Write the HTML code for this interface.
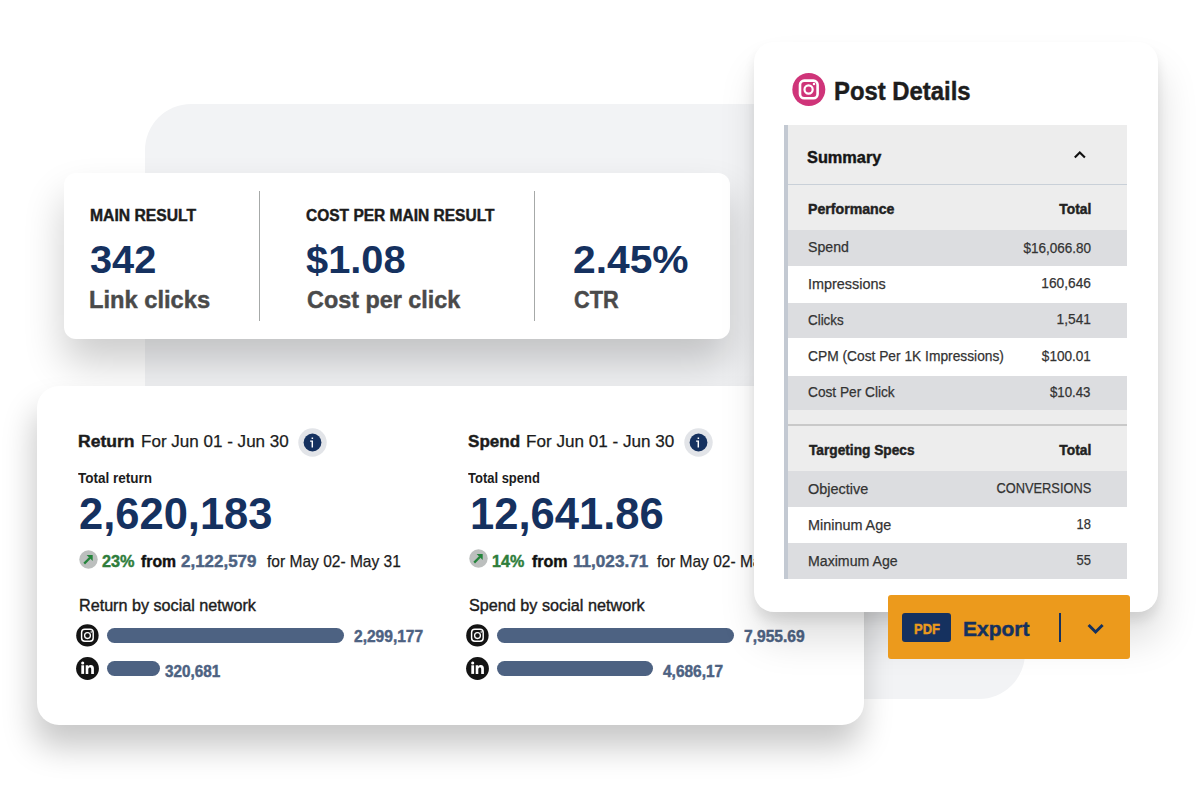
<!DOCTYPE html>
<html><head><meta charset="utf-8">
<style>
*{margin:0;padding:0;box-sizing:border-box}
html,body{width:1200px;height:800px;overflow:hidden;background:#fff}
body{position:relative;font-family:"Liberation Sans",Arial,sans-serif;color:#1c1c1c}
.abs{position:absolute}
.t{position:absolute;white-space:nowrap;transform-origin:0 50%}
.tr{position:absolute;white-space:nowrap;transform-origin:100% 50%;text-align:right}
.bg{left:145px;top:104px;width:880px;height:595px;border-radius:46px;background:#f2f3f5}
.card{background:#fff;position:absolute}
#c1{left:64px;top:173px;width:666px;height:166px;border-radius:12px;box-shadow:0 24px 40px rgba(0,0,0,.2)}
#c2{left:37px;top:386px;width:827px;height:339px;border-radius:22px;box-shadow:-3px 22px 32px rgba(0,0,0,.22)}
#c3{left:754px;top:42px;width:404px;height:570px;border-radius:20px;box-shadow:0 8px 12px rgba(0,0,0,.09),3px 28px 38px rgba(0,0,0,.13)}
.vdiv{position:absolute;width:1px;background:#a6a9a8}
.bar{position:absolute;height:15px;border-radius:8px;background:#4d6282}
.tbl{position:absolute;left:784px;width:343px}
.row{position:absolute;left:788px;width:339px}
</style></head>
<body>
<div class="abs bg"></div>

<div class="card" id="c1"></div>
<div class="vdiv" style="left:259px;top:191px;height:130px"></div>
<div class="vdiv" style="left:534px;top:191px;height:130px"></div>

<div class="card" id="c2"></div>
<svg class="abs" style="left:298.3px;top:427.6px" width="29" height="29" viewBox="0 0 29 29"><circle cx="14.5" cy="14.5" r="14.2" fill="#e2e4e8"/><circle cx="14.5" cy="14.5" r="8.9" fill="#15315f"/><rect x="13.6" y="9.5" width="1.5" height="1.5" fill="#fff"/><path d="M12.1 13.1H14.3V19.4" stroke="#fff" stroke-width="1.45" fill="none"/></svg>
<svg class="abs" style="left:683.5px;top:427.6px" width="29" height="29" viewBox="0 0 29 29"><circle cx="14.5" cy="14.5" r="14.2" fill="#e2e4e8"/><circle cx="14.5" cy="14.5" r="8.9" fill="#15315f"/><rect x="13.6" y="9.5" width="1.5" height="1.5" fill="#fff"/><path d="M12.1 13.1H14.3V19.4" stroke="#fff" stroke-width="1.45" fill="none"/></svg>
<svg class="abs" style="left:79.3px;top:549.8px" width="19" height="19" viewBox="0 0 19 19"><circle cx="9.5" cy="9.5" r="9.2" fill="#bcbfbe"/><path d="M5.2 13.6L11 7.8" stroke="#24843b" stroke-width="2.3" fill="none"/><path d="M7.6 5h6.1v6.1z" fill="#24843b"/></svg>
<svg class="abs" style="left:469.3px;top:549.3px" width="19" height="19" viewBox="0 0 19 19"><circle cx="9.5" cy="9.5" r="9.2" fill="#bcbfbe"/><path d="M5.2 13.6L11 7.8" stroke="#24843b" stroke-width="2.3" fill="none"/><path d="M7.6 5h6.1v6.1z" fill="#24843b"/></svg>
<svg class="abs" style="left:76px;top:623.5px" width="23" height="23" viewBox="0 0 23 23"><circle cx="11.4" cy="11.4" r="11.2" fill="#141414"/><rect x="5.6" y="5.3" width="11.6" height="11.9" rx="3.2" fill="none" stroke="#fff" stroke-width="1.45"/><circle cx="11.5" cy="11.6" r="2.9" fill="none" stroke="#fff" stroke-width="1.3"/><circle cx="15.2" cy="8" r="0.8" fill="#fff"/></svg>
<svg class="abs" style="left:466px;top:623.5px" width="23" height="23" viewBox="0 0 23 23"><circle cx="11.4" cy="11.4" r="11.2" fill="#141414"/><rect x="5.6" y="5.3" width="11.6" height="11.9" rx="3.2" fill="none" stroke="#fff" stroke-width="1.45"/><circle cx="11.5" cy="11.6" r="2.9" fill="none" stroke="#fff" stroke-width="1.3"/><circle cx="15.2" cy="8" r="0.8" fill="#fff"/></svg>
<svg class="abs" style="left:76px;top:657px" width="23" height="23" viewBox="0 0 23 23"><circle cx="11.5" cy="11.5" r="11.4" fill="#141414"/><circle cx="6.7" cy="6" r="1.55" fill="#fff"/><rect x="5.3" y="8.3" width="2.8" height="8.6" fill="#fff"/><path d="M9.7 8.3h2.6v1.2c.6-.9 1.5-1.4 2.6-1.4 2 0 3 1.2 3 3.4v5.4h-2.7v-4.8c0-1-.4-1.6-1.2-1.6-.9 0-1.7.6-1.7 1.7v4.7h-2.6z" fill="#fff"/></svg>
<svg class="abs" style="left:466px;top:657px" width="23" height="23" viewBox="0 0 23 23"><circle cx="11.5" cy="11.5" r="11.4" fill="#141414"/><circle cx="6.7" cy="6" r="1.55" fill="#fff"/><rect x="5.3" y="8.3" width="2.8" height="8.6" fill="#fff"/><path d="M9.7 8.3h2.6v1.2c.6-.9 1.5-1.4 2.6-1.4 2 0 3 1.2 3 3.4v5.4h-2.7v-4.8c0-1-.4-1.6-1.2-1.6-.9 0-1.7.6-1.7 1.7v4.7h-2.6z" fill="#fff"/></svg>
<div class="bar" style="left:107px;top:628px;width:237px"></div>
<div class="bar" style="left:107px;top:661px;width:53px"></div>
<div class="bar" style="left:497px;top:628px;width:237px"></div>
<div class="bar" style="left:497px;top:661px;width:156px"></div>

<div id="mr1" class="t" style="left:89.70px;top:207.81px;font-size:16.8px;line-height:16.8px;font-weight:700;color:#1c1c1c;transform:scaleX(0.9351);-webkit-text-stroke-width:0.45px">MAIN RESULT</div>
<div id="n1" class="t" style="left:89.55px;top:241.44px;font-size:38.8px;line-height:38.8px;font-weight:700;color:#15315f;transform:scaleX(1.0249)">342</div>
<div id="s1" class="t" style="left:88.82px;top:287.98px;font-size:24.4px;line-height:24.4px;font-weight:700;color:#4a4a4a;transform:scaleX(0.9708);-webkit-text-stroke-width:0.45px">Link clicks</div>
<div id="mr2" class="t" style="left:306.12px;top:207.81px;font-size:16.8px;line-height:16.8px;font-weight:700;color:#1c1c1c;transform:scaleX(0.9244);-webkit-text-stroke-width:0.45px">COST PER MAIN RESULT</div>
<div id="n2" class="t" style="left:306.07px;top:241.44px;font-size:38.8px;line-height:38.8px;font-weight:700;color:#15315f;transform:scaleX(1.0259)">$1.08</div>
<div id="s2" class="t" style="left:306.78px;top:287.98px;font-size:24.4px;line-height:24.4px;font-weight:700;color:#4a4a4a;transform:scaleX(0.9584);-webkit-text-stroke-width:0.45px">Cost per click</div>
<div id="n3" class="t" style="left:573.01px;top:241.44px;font-size:38.8px;line-height:38.8px;font-weight:700;color:#15315f;transform:scaleX(1.0505)">2.45%</div>
<div id="s3" class="t" style="left:573.80px;top:287.98px;font-size:24.4px;line-height:24.4px;font-weight:700;color:#4a4a4a;transform:scaleX(0.8904);-webkit-text-stroke-width:0.45px">CTR</div>
<div id="h1a" class="t" style="left:78.33px;top:433.33px;font-size:17.4px;line-height:17.4px;font-weight:700;color:#1c1c1c;transform:scaleX(1.0073);-webkit-text-stroke-width:0.45px">Return</div>
<div id="h1b" class="t" style="left:141.14px;top:433.33px;font-size:17.4px;line-height:17.4px;font-weight:400;color:#1c1c1c;transform:scaleX(0.9800);-webkit-text-stroke-width:0.25px">For Jun 01 - Jun 30</div>
<div id="tt1" class="t" style="left:78.19px;top:471.12px;font-size:14.4px;line-height:14.4px;font-weight:700;color:#1c1c1c;transform:scaleX(0.9392);-webkit-text-stroke-width:0px">Total return</div>
<div id="big1" class="t" style="left:79.29px;top:492.19px;font-size:44.5px;line-height:44.5px;font-weight:700;color:#15315f;transform:scaleX(0.9774)">2,620,183</div>
<div id="ch1a" class="t" style="left:102.14px;top:553.08px;font-size:17px;line-height:17px;font-weight:700;color:#2e7d3b;transform:scaleX(0.9567);-webkit-text-stroke-width:0.45px">23%</div>
<div id="ch1b" class="t" style="left:141.49px;top:553.08px;font-size:17px;line-height:17px;font-weight:700;color:#111;transform:scaleX(0.9272);-webkit-text-stroke-width:0.45px">from</div>
<div id="ch1c" class="t" style="left:181.36px;top:553.08px;font-size:17px;line-height:17px;font-weight:700;color:#4d6282;transform:scaleX(0.9975);-webkit-text-stroke-width:0.45px">2,122,579</div>
<div id="ch1d" class="t" style="left:267.13px;top:553.08px;font-size:17px;line-height:17px;font-weight:400;color:#1c1c1c;transform:scaleX(0.9143);-webkit-text-stroke-width:0.25px">for May 02- May 31</div>
<div id="sn1" class="t" style="left:79.16px;top:598.31px;font-size:16.8px;line-height:16.8px;font-weight:400;color:#1c1c1c;transform:scaleX(0.9625);-webkit-text-stroke-width:0.4px">Return by social network</div>
<div id="v11" class="t" style="left:354.22px;top:628.96px;font-size:15.6px;line-height:15.6px;font-weight:700;color:#4d6282;transform:scaleX(0.9966);-webkit-text-stroke-width:0.45px">2,299,177</div>
<div id="v12" class="t" style="left:165.21px;top:664.46px;font-size:15.6px;line-height:15.6px;font-weight:700;color:#4d6282;transform:scaleX(0.9808);-webkit-text-stroke-width:0.45px">320,681</div>
<div id="h2a" class="t" style="left:468.38px;top:433.33px;font-size:17.4px;line-height:17.4px;font-weight:700;color:#1c1c1c;transform:scaleX(0.9811);-webkit-text-stroke-width:0.45px">Spend</div>
<div id="h2b" class="t" style="left:525.88px;top:433.33px;font-size:17.4px;line-height:17.4px;font-weight:400;color:#1c1c1c;transform:scaleX(0.9834);-webkit-text-stroke-width:0.25px">For Jun 01 - Jun 30</div>
<div id="tt2" class="t" style="left:468.16px;top:471.12px;font-size:14.4px;line-height:14.4px;font-weight:700;color:#1c1c1c;transform:scaleX(0.9015);-webkit-text-stroke-width:0px">Total spend</div>
<div id="big2" class="t" style="left:470.33px;top:492.19px;font-size:44.5px;line-height:44.5px;font-weight:700;color:#15315f;transform:scaleX(0.9782)">12,641.86</div>
<div id="ch2a" class="t" style="left:492.45px;top:553.08px;font-size:17px;line-height:17px;font-weight:700;color:#2e7d3b;transform:scaleX(0.9475);-webkit-text-stroke-width:0.45px">14%</div>
<div id="ch2b" class="t" style="left:531.59px;top:553.08px;font-size:17px;line-height:17px;font-weight:700;color:#111;transform:scaleX(0.9432);-webkit-text-stroke-width:0.45px">from</div>
<div id="ch2c" class="t" style="left:572.65px;top:553.08px;font-size:17px;line-height:17px;font-weight:700;color:#4d6282;transform:scaleX(1.0067);-webkit-text-stroke-width:0.45px">11,023.71</div>
<div id="ch2d" class="t" style="left:657.15px;top:553.08px;font-size:17px;line-height:17px;font-weight:400;color:#1c1c1c;transform:scaleX(0.9143);-webkit-text-stroke-width:0.25px">for May 02- May 31</div>
<div id="sn2" class="t" style="left:469.15px;top:598.31px;font-size:16.8px;line-height:16.8px;font-weight:400;color:#1c1c1c;transform:scaleX(0.9656);-webkit-text-stroke-width:0.4px">Spend by social network</div>
<div id="v21" class="t" style="left:744.21px;top:628.96px;font-size:15.6px;line-height:15.6px;font-weight:700;color:#4d6282;transform:scaleX(0.9988);-webkit-text-stroke-width:0.45px">7,955.69</div>
<div id="v22" class="t" style="left:663.20px;top:664.46px;font-size:15.6px;line-height:15.6px;font-weight:700;color:#4d6282;transform:scaleX(0.9908);-webkit-text-stroke-width:0.45px">4,686,17</div>
<div class="card" id="c3"></div>
<svg class="abs" style="left:792px;top:73px" width="34" height="34" viewBox="0 0 34 34"><circle cx="16.8" cy="16.5" r="16.5" fill="#cf3479"/><rect x="8" y="7.6" width="17.6" height="17.6" rx="4.2" fill="none" stroke="#fff" stroke-width="2.6"/><circle cx="16.6" cy="16.5" r="4.1" fill="none" stroke="#fff" stroke-width="2.2"/><circle cx="22" cy="11" r="1.25" fill="#fff"/></svg>

<div class="tbl" style="top:125px;height:454px;background:#c3c9d2"></div>
<div class="row" style="top:125px;height:59px;background:#ededed"></div>
<div class="row" style="top:184px;height:1px;background:#c9d0d8"></div>
<div class="row" style="top:185px;height:45px;background:#ededed"></div>
<div class="row" style="top:230px;height:36px;background:#dcdde0"></div>
<div class="row" style="top:266px;height:37px;background:#fff"></div>
<div class="row" style="top:303px;height:35px;background:#dcdde0"></div>
<div class="row" style="top:338px;height:38px;background:#fff"></div>
<div class="row" style="top:376px;height:34px;background:#dcdde0"></div>
<div class="row" style="top:410px;height:15px;background:#ededed"></div>
<div class="row" style="top:424px;height:1.5px;background:#c9c9c9"></div>
<div class="row" style="top:425.5px;height:45.5px;background:#ededed"></div>
<div class="row" style="top:471px;height:36px;background:#dcdde0"></div>
<div class="row" style="top:507px;height:36px;background:#fff"></div>
<div class="row" style="top:543px;height:35.5px;background:#dcdde0"></div>
<svg class="abs" style="left:1072px;top:149px" width="16" height="12" viewBox="0 0 16 12"><path d="M2.8 8.6L7.8 3.4L12.9 8.6" stroke="#111" stroke-width="2.1" fill="none"/></svg>

<div class="abs" style="left:888px;top:595px;width:242px;height:64px;border-radius:3px;background:#ec9a1c"></div>
<div class="abs" style="left:902px;top:612.5px;width:49px;height:29.5px;border-radius:3px;background:#15315f"></div>
<div class="abs" style="left:1059px;top:613px;width:2px;height:29px;background:#15315f"></div>
<svg class="abs" style="left:1085px;top:621px" width="21" height="15" viewBox="0 0 21 15"><path d="M3.6 4L10.6 11L17.6 4" stroke="#15315f" stroke-width="3" fill="none"/></svg>

<div id="pd" class="t" style="left:833.75px;top:77.55px;font-size:26.4px;line-height:26.4px;font-weight:700;color:#1d1d1d;transform:scaleX(0.9040);-webkit-text-stroke-width:0.45px">Post Details</div>
<div id="sum" class="t" style="left:807.14px;top:148.76px;font-size:17.2px;line-height:17.2px;font-weight:700;color:#161616;transform:scaleX(0.9494);-webkit-text-stroke-width:0.45px">Summary</div>
<div id="perf" class="t" style="left:808.26px;top:202.07px;font-size:14.8px;line-height:14.8px;font-weight:700;color:#222;transform:scaleX(0.9560);-webkit-text-stroke-width:0.45px">Performance</div>
<div id="tot1" class="tr" style="right:109.24px;top:202.07px;font-size:14.8px;line-height:14.8px;font-weight:700;color:#222;transform:scaleX(0.9320);-webkit-text-stroke-width:0.45px">Total</div>
<div id="r1" class="t" style="left:807.84px;top:239.02px;font-size:15.2px;line-height:15.2px;font-weight:400;color:#333333;transform:scaleX(0.9313);-webkit-text-stroke-width:0.25px">Spend</div>
<div id="r1v" class="tr" style="right:109.21px;top:240.18px;font-size:15.2px;line-height:15.2px;font-weight:400;color:#333333;transform:scaleX(0.8885);-webkit-text-stroke-width:0.25px">$16,066.80</div>
<div id="r2" class="t" style="left:807.84px;top:276.18px;font-size:15.2px;line-height:15.2px;font-weight:400;color:#333333;transform:scaleX(0.9490);-webkit-text-stroke-width:0.25px">Impressions</div>
<div id="r2v" class="tr" style="right:109.22px;top:275.18px;font-size:15.2px;line-height:15.2px;font-weight:400;color:#333333;transform:scaleX(0.9022);-webkit-text-stroke-width:0.25px">160,646</div>
<div id="r3" class="t" style="left:807.87px;top:312.18px;font-size:15.2px;line-height:15.2px;font-weight:400;color:#333333;transform:scaleX(0.8815);-webkit-text-stroke-width:0.25px">Clicks</div>
<div id="r3v" class="tr" style="right:109.22px;top:311.18px;font-size:15.2px;line-height:15.2px;font-weight:400;color:#333333;transform:scaleX(0.9057);-webkit-text-stroke-width:0.25px">1,541</div>
<div id="r4" class="t" style="left:807.86px;top:348.18px;font-size:15.2px;line-height:15.2px;font-weight:400;color:#333333;transform:scaleX(0.9070);-webkit-text-stroke-width:0.25px">CPM (Cost Per 1K Impressions)</div>
<div id="r4v" class="tr" style="right:109.21px;top:348.18px;font-size:15.2px;line-height:15.2px;font-weight:400;color:#333333;transform:scaleX(0.8932);-webkit-text-stroke-width:0.25px">$100.01</div>
<div id="r5" class="t" style="left:807.85px;top:384.18px;font-size:15.2px;line-height:15.2px;font-weight:400;color:#333333;transform:scaleX(0.9013);-webkit-text-stroke-width:0.25px">Cost Per Click</div>
<div id="r5v" class="tr" style="right:109.21px;top:384.18px;font-size:15.2px;line-height:15.2px;font-weight:400;color:#333333;transform:scaleX(0.8728);-webkit-text-stroke-width:0.25px">$10.43</div>
<div id="ts" class="t" style="left:809.38px;top:443.07px;font-size:14.8px;line-height:14.8px;font-weight:700;color:#222;transform:scaleX(0.9254);-webkit-text-stroke-width:0.45px">Targeting Specs</div>
<div id="tot2" class="tr" style="right:109.24px;top:443.07px;font-size:14.8px;line-height:14.8px;font-weight:700;color:#222;transform:scaleX(0.9320);-webkit-text-stroke-width:0.45px">Total</div>
<div id="r6" class="t" style="left:807.85px;top:481.18px;font-size:15.2px;line-height:15.2px;font-weight:400;color:#333333;transform:scaleX(0.9510);-webkit-text-stroke-width:0.25px">Objective</div>
<div id="r6v" class="tr" style="right:109.20px;top:480.18px;font-size:15.2px;line-height:15.2px;font-weight:400;color:#333333;transform:scaleX(0.8447);-webkit-text-stroke-width:0.25px">CONVERSIONS</div>
<div id="r7" class="t" style="left:807.85px;top:517.18px;font-size:15.2px;line-height:15.2px;font-weight:400;color:#333333;transform:scaleX(0.9478);-webkit-text-stroke-width:0.25px">Mininum Age</div>
<div id="r7v" class="tr" style="right:109.20px;top:516.18px;font-size:15.2px;line-height:15.2px;font-weight:400;color:#333333;transform:scaleX(0.8509);-webkit-text-stroke-width:0.25px">18</div>
<div id="r8" class="t" style="left:807.84px;top:553.18px;font-size:15.2px;line-height:15.2px;font-weight:400;color:#333333;transform:scaleX(0.9314);-webkit-text-stroke-width:0.25px">Maximum Age</div>
<div id="r8v" class="tr" style="right:109.20px;top:552.18px;font-size:15.2px;line-height:15.2px;font-weight:400;color:#333333;transform:scaleX(0.8509);-webkit-text-stroke-width:0.25px">55</div>
<div id="pdf" class="t" style="left:914.35px;top:622.17px;font-size:14px;line-height:14px;font-weight:700;color:#eb9a1c;transform:scaleX(0.9256);-webkit-text-stroke-width:0.45px">PDF</div>
<div id="exp" class="t" style="left:962.97px;top:619.39px;font-size:20px;line-height:20px;font-weight:700;color:#15315f;transform:scaleX(1.0476);-webkit-text-stroke-width:0.45px">Export</div>
</body></html>
